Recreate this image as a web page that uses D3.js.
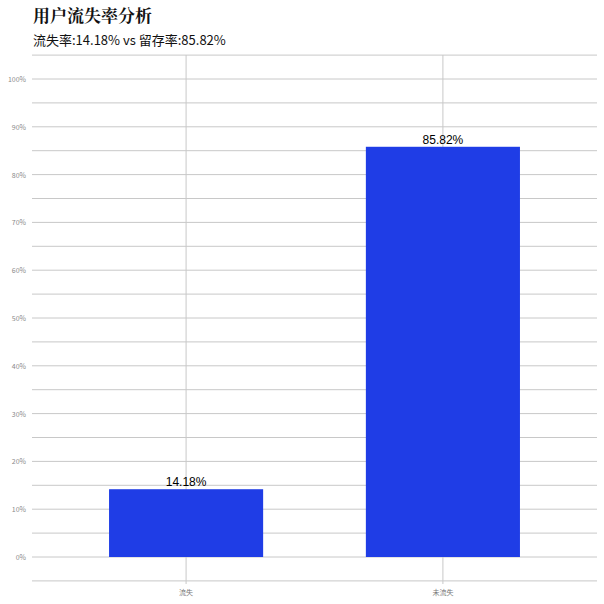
<!DOCTYPE html><html><head><meta charset="utf-8"><script src="https://cdn.jsdelivr.net/npm/d3@7"></script>
<style>body{margin:0;background:#fff}</style></head><body><svg width="604" height="604"></svg>
<script>
const categories=["流失","未流失"];
const values=[14.18,85.82];
const yTicks=[0,10,20,30,40,50,60,70,80,90,100];
const svg=d3.select("svg");
const font="'Noto Sans CJK SC','Noto Sans',sans-serif";
const x=d3.scaleBand().domain(categories).range([32,597]).paddingInner(0.4).paddingOuter(0.3);
const y=d3.scaleLinear().domain([0,100]).range([557,79]);
const g=svg.append("g");
d3.range(-5,106,5).forEach(v=>{g.append("line").attr("x1",32).attr("x2",597).attr("y1",y(v)).attr("y2",y(v)).attr("stroke","#c8c8c8").attr("stroke-width",1);});
categories.forEach(c=>{const cx=x(c)+x.bandwidth()/2;g.append("line").attr("x1",cx).attr("x2",cx).attr("y1",55).attr("y2",584).attr("stroke","#c8c8c8");});
yTicks.forEach(v=>g.append("text").attr("x",26).attr("y",y(v)+3).attr("text-anchor","end").attr("font-size",7).attr("fill","#8a8a8a").attr("font-family",font).text(v+"%"));
categories.forEach(c=>g.append("text").attr("x",x(c)+x.bandwidth()/2).attr("y",595).attr("text-anchor","middle").attr("font-size",7).attr("fill","#777").attr("font-family",font).text(c));
svg.selectAll("rect.bar").data(values).join("rect").attr("x",(d,i)=>x(categories[i])).attr("width",x.bandwidth()).attr("y",d=>y(d)).attr("height",d=>y(0)-y(d)).attr("fill","#1f3de6");
svg.selectAll("text.lab").data(values).join("text").attr("x",(d,i)=>x(categories[i])+x.bandwidth()/2).attr("y",d=>y(d)-3).attr("text-anchor","middle").attr("font-size",12).attr("font-family","'Liberation Sans',Arial,sans-serif").text(d=>d.toFixed(2)+"%");
svg.append("text").attr("x",33).attr("y",22).attr("font-size",17).attr("font-weight","bold").attr("font-family","'Noto Serif CJK SC','Noto Sans CJK SC',serif").attr("fill","#111").text("用户流失率分析");
svg.append("text").attr("x",33).attr("y",45).attr("font-size",13).attr("font-family",font).attr("fill","#111").text(`流失率:${values[0].toFixed(2)}% vs 留存率:${values[1].toFixed(2)}%`);
</script></body></html>
